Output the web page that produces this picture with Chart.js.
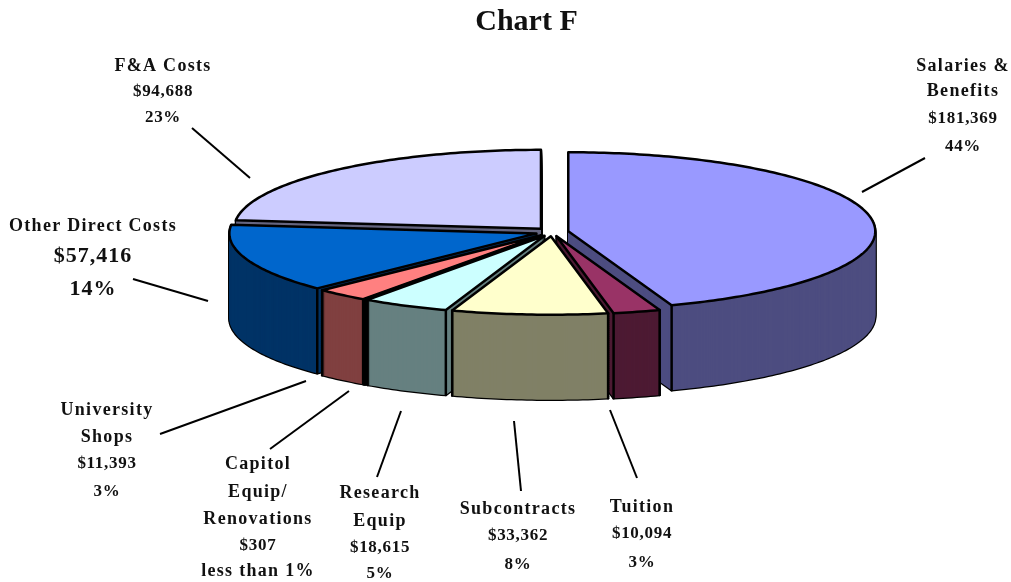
<!DOCTYPE html>
<html><head><meta charset="utf-8">
<style>html,body{margin:0;padding:0;background:#fff}#w{width:1011px;height:582px}</style>
<script src="https://cdn.jsdelivr.net/npm/chart.js@4/dist/chart.umd.min.js"></script>
</head><body><div id="w"><canvas id="c"></canvas></div>
<script>
const categories = ["Salaries & Benefits","Tuition","Subcontracts","Research Equip","Capitol Equip/ Renovations","University Shops","Other Direct Costs","F&A Costs"];
const values = [181369,10094,33362,18615,307,11393,57416,94688];
const percents = ["44%","3%","8%","5%","less than 1%","3%","14%","23%"];
const topColors = ["#9999FF","#993366","#FFFFCC","#CCFFFF","#0066CC","#FF8080","#0066CC","#CCCCFF"];
const sideColors = ["#4D4D80","#4D1A33","#808066","#668080","#003366","#804040","#003366","#666680"];

// name lines for each label, wrapped as in the reference
const nameLines = [["Salaries &","Benefits"],["Tuition"],["Subcontracts"],["Research","Equip"],["Capitol","Equip/","Renovations"],["University","Shops"],["Other Direct Costs"],["F&A Costs"]];
// annotation layout: centre x, baseline y per line, leader line
const labelLayout = [
 {x:963,ys:[71,96,123,151],line:[862,192,925,158]},
 {x:642,ys:[512,538,567],line:[637,478,610,410]},
 {x:518,ys:[514,540,569],line:[521,491,514,421]},
 {x:380,ys:[498,526,552,578],line:[377,477,401,411]},
 {x:258,ys:[469,497,524,550,576],line:[270,449,349,391]},
 {x:107,ys:[415,442,468,496],line:[160,434,306,381]},
 {x:93,ys:[231,262,295],line:[133,279,208,301],big:true},
 {x:163,ys:[71,96,122],line:[192,128,250,178]}
];
// 3-D projection of the pie disc on the page
const view = {cx:552,cy:232,rx:307,ryBack:79,ryFront:78.5,depth:85};

function project(U,V,d){
  return [view.cx+view.rx*U, view.cy+V*(V<0?view.ryBack:view.ryFront)+d];
}
function slicePts(el,d){
  const p=el.getProps(['startAngle','endAngle','outerRadius']);
  const e=el.options.offset/p.outerRadius, mid=(p.startAngle+p.endAngle)/2;
  const ox=e*Math.cos(mid), oy=e*Math.sin(mid), pts=[project(ox,oy,d)];
  const n=Math.max(2,Math.ceil((p.endAngle-p.startAngle)*60));
  for(let i=0;i<=n;i++){const a=p.startAngle+(p.endAngle-p.startAngle)*i/n;
    pts.push(project(ox+Math.cos(a),oy+Math.sin(a),d));}
  return {pts};
}
function trace(ctx,pts){ctx.beginPath();pts.forEach((q,i)=>i?ctx.lineTo(q[0],q[1]):ctx.moveTo(q[0],q[1]));ctx.closePath();}

const pie3d = {
  id:'pie3d',
  beforeDatasetsDraw(chart){
    const ctx=chart.ctx, arcs=chart.getDatasetMeta(0).data;
    const order=arcs.map((el,i)=>{const p=el.getProps(['startAngle','endAngle']);
      return {i,el,k:Math.sin((p.startAngle+p.endAngle)/2)};}).sort((a,b)=>a.k-b.k);
    ctx.save();ctx.lineJoin='round';ctx.lineCap='round';
    order.forEach(({i,el})=>{
      ctx.strokeStyle='#000';ctx.lineWidth=2.5;
      for(let d=view.depth;d>=0;d-=2){trace(ctx,slicePts(el,d).pts);ctx.stroke();}
      ctx.fillStyle=sideColors[i];
      for(let d=view.depth;d>=0;d-=1){trace(ctx,slicePts(el,d).pts);ctx.fill();}
      const pts=slicePts(el,0).pts;
      [pts[1],pts[pts.length-1]].forEach(q=>{
        if(q[1]>view.cy+8){ctx.beginPath();ctx.moveTo(q[0],q[1]);ctx.lineTo(q[0],q[1]+view.depth);ctx.stroke();}
      });
      trace(ctx,pts);ctx.fillStyle=topColors[i];ctx.fill();ctx.stroke();
    });
    ctx.restore();
    return false;
  },
  afterDraw(chart){
    const ctx=chart.ctx;ctx.save();
    ctx.textAlign='center';ctx.textBaseline='alphabetic';ctx.fillStyle='#111';
    labelLayout.forEach((L,i)=>{
      const names=nameLines[i];
      const lines=[...names,'$'+values[i].toLocaleString('en-US'),percents[i]];
      lines.forEach((t,j)=>{
        const big=L.big&&j>0, isName=j<names.length||t===percents[4];
        ctx.font='bold '+(big?22:(isName?18:17))+'px "Liberation Serif"';
        ctx.letterSpacing=big?'1px':(isName?'1.3px':'0.7px');
        ctx.fillText(t,L.x,L.ys[j]);
      });
      ctx.strokeStyle='#000';ctx.lineWidth=2;ctx.beginPath();
      ctx.moveTo(L.line[0],L.line[1]);ctx.lineTo(L.line[2],L.line[3]);ctx.stroke();
    });
    ctx.restore();
  }
};

new Chart(document.getElementById('c'),{
  type:'pie',
  data:{labels:categories,datasets:[{data:values,backgroundColor:topColors,borderColor:'#000',borderWidth:2,offset:14}]},
  options:{responsive:true,maintainAspectRatio:false,animation:false,
    layout:{padding:{left:42}},
    plugins:{legend:{display:false},tooltip:{enabled:false},
      title:{display:true,text:'Chart F',fullSize:false,color:'#111',font:{family:'"Liberation Serif"',size:30,weight:'bold'},padding:{top:4,bottom:6}}}},
  plugins:[pie3d]
});
</script></body></html>
